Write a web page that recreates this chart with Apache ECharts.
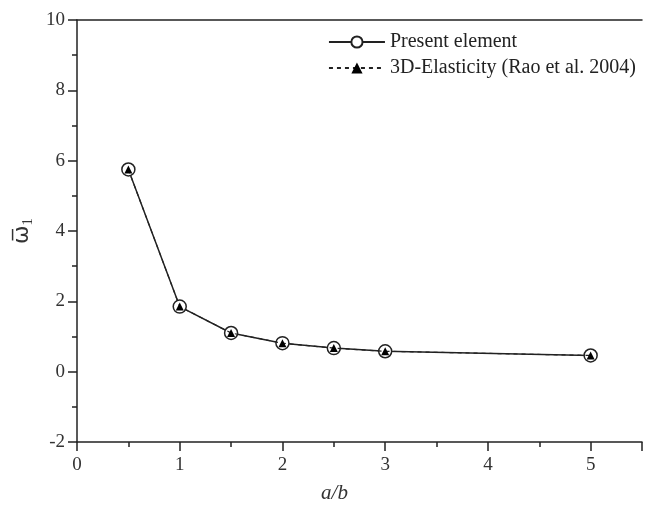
<!DOCTYPE html>
<html>
<head>
<meta charset="utf-8">
<script src="https://cdn.jsdelivr.net/npm/echarts@6/dist/echarts.min.js"></script>
<style>html,body{margin:0;padding:0;background:#fff;}#c{width:645px;height:509px;}</style>
</head>
<body>
<div id="c"></div>
<script>
var xValues = [0.5, 1, 1.5, 2, 2.5, 3, 5];
var presentElement = [5.75, 1.85, 1.1, 0.81, 0.67, 0.58, 0.46];
var elasticity3D = [5.75, 1.85, 1.1, 0.81, 0.67, 0.58, 0.46];
var seriesNames = ['Present element', '3D-Elasticity (Rao et al. 2004)'];
var xTicks = [0, 1, 2, 3, 4, 5];
var yTicks = [-2, 0, 2, 4, 6, 8, 10];

function pairs(xs, ys) { return xs.map(function (x, i) { return [x, ys[i]]; }); }

var font = 'Liberation Serif';
var chart = echarts.init(document.getElementById('c'), null, {renderer: 'canvas'});
chart.setOption({
  backgroundColor: '#fff',
  animation: false,
  textStyle: {fontFamily: font},
  grid: {left: 77, top: 20, width: 573, height: 423},
  legend: {
    right: 4, top: 27, orient: 'vertical', itemGap: 6,
    itemWidth: 56, itemHeight: 14, itemGap: 6,
    textStyle: {fontFamily: font, fontSize: 20, color: '#222'},
    data: seriesNames
  },
  xAxis: [{
    type: 'value', min: 0, max: 5.5, interval: 1,
    axisLine: {onZero: false, lineStyle: {color: '#222', width: 1.5}},
    axisTick: {length: 9, lineStyle: {color: '#222', width: 1.5}},
    minorTick: {show: true, splitNumber: 2, length: 5, lineStyle: {color: '#222', width: 1.5}},
    splitLine: {show: false},
    axisLabel: {fontFamily: font, fontSize: 19, color: '#333', margin: 14,
      formatter: function (v) { return xTicks.indexOf(v) >= 0 ? String(v) : ''; }},
    name: 'a/b', nameLocation: 'middle', nameGap: 41,
    nameTextStyle: {fontFamily: font, fontSize: 21, fontStyle: 'italic', color: '#333', padding: [0, 50, 0, 0]}
  }, {
    type: 'value', position: 'top', min: 0, max: 5.5,
    axisLine: {show: true, onZero: false, lineStyle: {color: '#222', width: 1.5}},
    axisTick: {show: false}, axisLabel: {show: false}, splitLine: {show: false}
  }],
  yAxis: {
    type: 'value', min: -2, max: 10, interval: 2,
    axisLine: {show: true, onZero: false, lineStyle: {color: '#222', width: 1.5}},
    axisTick: {show: true, length: 9, lineStyle: {color: '#222', width: 1.5}},
    minorTick: {show: true, splitNumber: 2, length: 5, lineStyle: {color: '#222', width: 1.5}},
    splitLine: {show: false},
    axisLabel: {fontFamily: font, fontSize: 19, color: '#333', margin: 12,
      formatter: function (v) { return yTicks.indexOf(v) >= 0 ? String(v) : ''; }},
    name: '{a|ω\u0305}{b|1}', nameLocation: 'middle', nameGap: 40, nameRotate: 90,
    nameTextStyle: {
      rich: {
        a: {fontFamily: 'DejaVu Sans', fontSize: 22, color: '#333'},
        b: {fontFamily: font, fontSize: 15, color: '#333', padding: [10, 0, 0, 0]}
      }
    }
  },
  series: [{
    name: seriesNames[0], type: 'line', data: pairs(xValues, presentElement),
    symbol: 'circle', symbolSize: 13,
    lineStyle: {color: '#222', width: 1.5},
    itemStyle: {color: '#fff', borderColor: '#222', borderWidth: 1.5},
    z: 2
  }, {
    name: seriesNames[1], type: 'line', data: pairs(xValues, elasticity3D),
    symbol: 'triangle', symbolSize: 8,
    lineStyle: {color: '#222', width: 1.2, type: [4, 4]},
    itemStyle: {color: '#000', borderColor: '#000', borderWidth: 0},
    z: 3
  }]
});
</script>
</body>
</html>
